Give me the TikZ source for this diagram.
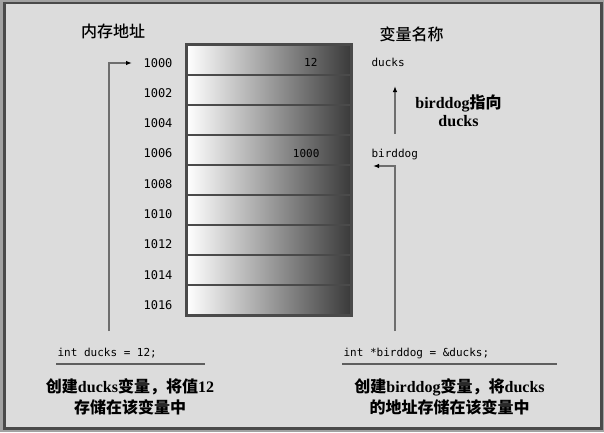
\documentclass[tikz,border=0pt]{standalone}
\usepackage{fontspec}
\setmainfont{Liberation Serif}
\setmonofont{DejaVu Sans Mono}
\newfontfamily\cjk{Noto Sans CJK SC}
\newfontfamily\cjkmed{Noto Sans CJK SC}[UprightFont=* Medium]
\newcommand{\zh}[1]{{\cjk #1}}
\usetikzlibrary{arrows.meta}
\definecolor{outergray}{HTML}{A2A2A2}
\definecolor{bggray}{HTML}{DCDCDC}
\definecolor{framegray}{HTML}{4A4A4A}
\definecolor{cellline}{HTML}{4A4A4A}
\definecolor{celldark}{HTML}{3A3A3A}
\definecolor{linkgray}{HTML}{6E6E6E}
\definecolor{rulegray}{HTML}{5E5E5E}
\tikzset{
	cell/.style={draw=cellline, line width=2pt, minimum width=164pt, minimum height=30pt, inner sep=0pt, left color=white, right color=celldark},
	addr/.style={font=\ttfamily\fontsize{12}{14}\selectfont, anchor=east},
	code/.style={font=\ttfamily\fontsize{11}{13}\selectfont, text height=8pt, text depth=2pt},
	head/.style={font=\cjkmed\fontsize{16}{19}\selectfont},
	note/.style={font=\bfseries\fontsize{16}{21}\selectfont, align=center},
	link/.style={draw=linkgray, line width=1.5pt, -{Latex[length=6pt,width=4.5pt,color=black]}},
	underline/.style={draw=rulegray, line width=2pt}
}

\begin{document}
\begin{tikzpicture}[x=1pt,y=-1pt]
			\useasboundingbox (0,0) rectangle (604,432);
			%Frame
			\fill[outergray] (0,0) rectangle (604,432);
			\draw[framegray, line width=2.5pt, fill=bggray] (4.3,3) rectangle (601.5,428.5);
			%Headings
			\node[head] (hmem) at (113,31) {内存地址};
			\node[head] (hvar) at (411.5,34) {变量名称};
			%Memory cells
			\node[cell] (c0) at (269,59.5) {};
			\node[cell] (c1) at (269,89.5) {};
			\node[cell] (c2) at (269,119.5) {};
			\node[cell] (c3) at (269,149.5) {};
			\node[cell] (c4) at (269,179.5) {};
			\node[cell] (c5) at (269,209.5) {};
			\node[cell] (c6) at (269,239.5) {};
			\node[cell] (c7) at (269,269.5) {};
			\node[cell] (c8) at (269,299.5) {};
			\draw[cellline, line width=2pt] (c0.north west) rectangle (c8.south east);
			\node[code, anchor=east] (v0) at (321,63) {12};
			\node[code, anchor=east] (v3) at (323,154) {1000};
			%Addresses
			\node[addr] (a0) at (176,63) {1000};
			\node[addr] (a1) at (176,93) {1002};
			\node[addr] (a2) at (176,123) {1004};
			\node[addr] (a3) at (176,153) {1006};
			\node[addr] (a4) at (176,184) {1008};
			\node[addr] (a5) at (176,214) {1010};
			\node[addr] (a6) at (176,244) {1012};
			\node[addr] (a7) at (176,275) {1014};
			\node[addr] (a8) at (176,305) {1016};
			%Variable names
			\node[code, anchor=west] (ducks) at (368,63) {ducks};
			\node[code, anchor=west] (birddog) at (368,154) {birddog};
			\node[note, font=\bfseries\fontsize{16}{18}\selectfont] (points) at (458.5,111) {birddog\zh{指向}\\ducks};
			%Arrows
			\coordinate (lbot) at (109,331);
			\draw[link, shorten >=8pt] (lbot) |- (a0.west);
			\coordinate (rbot) at (395,331);
			\coordinate (rtip) at (373,166);
			\draw[link] (rbot) |- (rtip);
			\coordinate (ufrom) at (395,134);
			\coordinate (uto) at (395,86);
			\draw[link] (ufrom) -- (uto);
			%Statements
			\node[code, anchor=west] (sduck) at (54,353) {int ducks = 12;};
			\node[code, anchor=west] (sbird) at (340,353) {int *birddog = \&ducks;};
			\coordinate (ul1) at (56,364);
			\coordinate (ul2) at (205,364);
			\coordinate (ur1) at (342,364);
			\coordinate (ur2) at (557,364);
			\draw[underline] (ul1) -- (ul2);
			\draw[underline] (ur1) -- (ur2);
			\node[note] (nduck) at (130,396.5) {\zh{创建}ducks\zh{变量，将值}12\\\zh{存储在该变量中}};
			\node[note] (nbird) at (449.5,396.5) {\zh{创建}birddog\zh{变量，将}ducks\\\zh{的地址存储在该变量中}};
\end{tikzpicture}
\end{document}
